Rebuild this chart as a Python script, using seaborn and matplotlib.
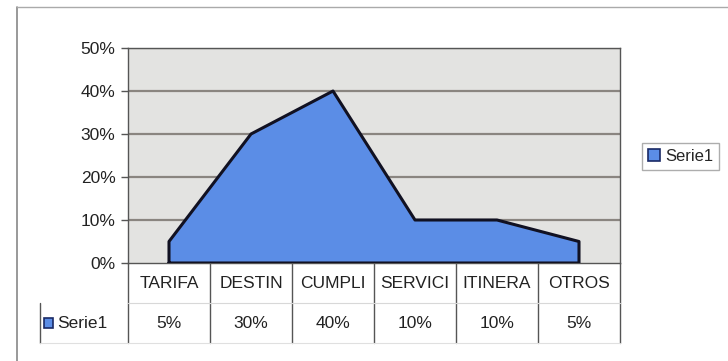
import matplotlib
matplotlib.use("Agg")
import matplotlib.pyplot as plt
import seaborn as sns
import numpy as np
import pandas as pd
from matplotlib.patches import Rectangle
from matplotlib.lines import Line2D

categories = ["TARIFA", "DESTIN", "CUMPLI", "SERVICI", "ITINERA", "OTROS"]
values = [5, 30, 40, 10, 10, 5]
value_labels = ["5%", "30%", "40%", "10%", "10%", "5%"]
series_name = "Serie1"
yticks = [0, 10, 20, 30, 40, 50]

sns.set_style("white")
plt.rcParams['font.family'] = ['Liberation Sans', 'DejaVu Sans']

W, H = 728, 361
fig = plt.figure(figsize=(W / 100, H / 100), dpi=100)
fig.patch.set_facecolor("white")

L, R, T, B = 128, 620, 48, 263
ax = fig.add_axes([L / W, 1 - B / H, (R - L) / W, (B - T) / H])
ax.set_facecolor("#e3e3e1")

df = pd.DataFrame({"pos": np.arange(len(categories)), "val": values})
fill_color = "#5b8de6"
ax.fill_between(df["pos"], 0, df["val"], facecolor=fill_color, edgecolor="none", zorder=3)
n = len(categories)
outline = pd.DataFrame({
    "x": [0] + list(df["pos"]) + [n - 1, 0],
    "y": [0] + list(df["val"]) + [0, 0],
})
sns.lineplot(data=outline, x="x", y="y", sort=False, estimator=None,
             color="#111122", lw=2.2, ax=ax, zorder=4)

ax.set_xlim(-0.5, n - 0.5)
ax.set_ylim(0, 50)
ax.set_xlabel("")
ax.set_ylabel("")
ax.set_yticks(yticks)
ax.set_yticklabels([f"{v}%" for v in yticks], fontsize=12.5, color="#222222")
ax.set_xticks([])
for v in yticks[1:]:
    ax.axhline(v, color="#8a8580", lw=1.6, zorder=1)
for s in ["left", "right", "top", "bottom"]:
    ax.spines[s].set_color("#555555")
    ax.spines[s].set_linewidth(1.0)
ax.tick_params(axis="y", length=5, width=1, color="#555555", pad=4, left=True)

# data table
row1 = -40 / (B - T)
row2 = -80 / (B - T)
tr = ax.get_xaxis_transform()
lc = "#555555"
for i in range(n + 1):
    ax.add_line(Line2D([i - 0.5, i - 0.5], [0, row2], transform=tr, color=lc, lw=1.0, clip_on=False))
left_data = -0.5 - 88 / ((R - L) / n)
ax.add_line(Line2D([left_data, left_data], [row1, row2], transform=tr, color=lc, lw=1.0, clip_on=False))
ax.add_line(Line2D([-0.5, n - 0.5], [row1, row1], transform=tr, color="#d8d8d8", lw=0.8, clip_on=False))
ax.add_line(Line2D([left_data, n - 0.5], [row2, row2], transform=tr, color="#e0e0e0", lw=0.8, clip_on=False))
for i, (c, vl) in enumerate(zip(categories, value_labels)):
    ax.text(i, row1 / 2, c, transform=tr, ha="center", va="center", fontsize=12.5, color="#222222")
    ax.text(i, (row1 + row2) / 2, vl, transform=tr, ha="center", va="center", fontsize=12.5, color="#222222")
kx = left_data + 0.05
ax.add_patch(Rectangle((kx, (row1 + row2) / 2 - 0.022), 0.11, 0.044, transform=tr,
                       facecolor=fill_color, edgecolor="#1a2a66", lw=1.2, clip_on=False))
ax.text(kx + 0.16, (row1 + row2) / 2, series_name, transform=tr, ha="left", va="center",
        fontsize=12.5, color="#222222")

# chart border (cropped)
fig.add_artist(Line2D([17 / W, 17 / W], [0, 1 - 7 / H], transform=fig.transFigure, color="#888888", lw=1.2))
fig.add_artist(Line2D([17 / W, 1], [1 - 7 / H, 1 - 7 / H], transform=fig.transFigure, color="#aaaaaa", lw=1.0))

# legend
handle = Rectangle((0, 0), 1, 1, facecolor=fill_color, edgecolor="#1a2a66", lw=1.2)
leg = fig.legend([handle], [series_name], loc="upper left", bbox_to_anchor=(642 / W, 1 - 143 / H),
                 fontsize=12, frameon=True, fancybox=False, handlelength=0.75, handleheight=0.75,
                 handletextpad=0.3, borderpad=0.35, borderaxespad=0.0)
leg.get_frame().set_edgecolor("#999999")
leg.get_frame().set_linewidth(1.0)

fig.savefig("out.png", dpi=100)
